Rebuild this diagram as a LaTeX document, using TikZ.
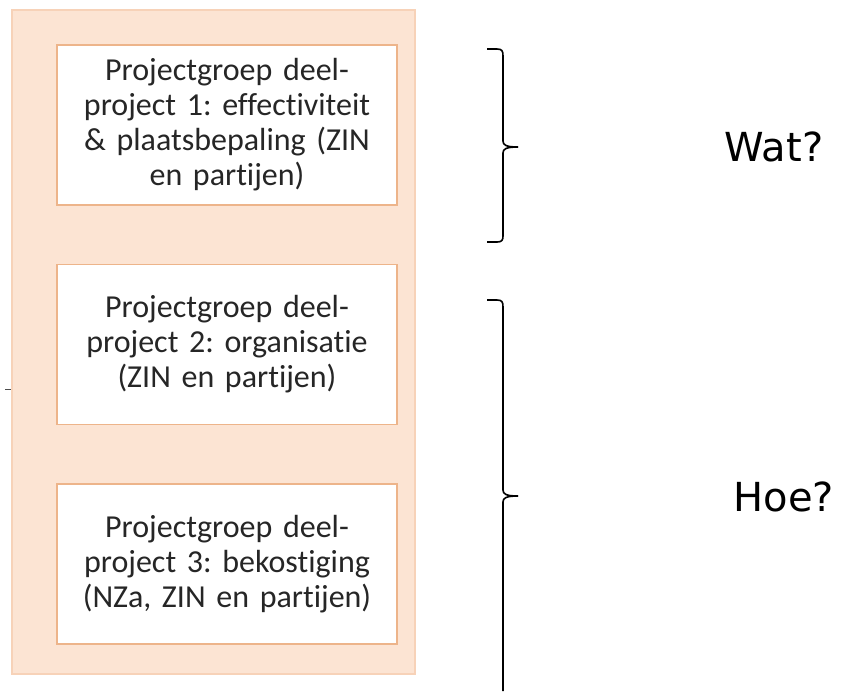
\documentclass[tikz,border=0pt]{standalone}
\usepackage{fontspec}
\setmainfont{Carlito}[Ligatures=NoCommon]
\newfontfamily\labelfont{DejaVu Sans}
\usetikzlibrary{positioning}
\frenchspacing
\definecolor{peach}{HTML}{FCE4D3}
\definecolor{peachline}{HTML}{F7D2B8}
\definecolor{boxline}{HTML}{EDB48A}
\tikzset{
    block/.style = {draw=boxline, fill=white, line width=1.5pt, rectangle,
        minimum height=160pt,
        minimum width=340pt, inner sep=0pt,
        text width=330pt, align=center, text=black!85,
        font=\fontsize{32}{35}\selectfont},
    panel/.style = {draw=peachline, fill=peach, line width=2pt},
    bracket/.style = {draw, line width=1.6pt, line join=round},
    question/.style = {font=\labelfont\fontsize{40}{48}\selectfont}
}

\begin{document}
\begin{tikzpicture}[x=1pt, y=-1pt, node distance=58pt]
        \useasboundingbox (0,0) rectangle (842,691);
        \draw [panel] (12,10) rectangle (415,674);
        \node [block] (dp1) at (227,125) {Projectgroep deel-\\project 1: effectiviteit\\\& plaatsbepaling (ZIN\\en partijen)};
        \node [block, below=of dp1] (dp2) {Projectgroep deel-\\project 2: organisatie\\(ZIN en partijen)};
        \node [block, below=of dp2] (dp3) {Projectgroep deel-\\project 3: bekostiging\\(NZa, ZIN en partijen)};
        \draw [line width=1pt, black!70] (5,389) -- (11,389);
        % brackets
        \draw [bracket] (487,49) -- (497,49) .. controls (502,49) and (503,51) .. (503,56) -- (503,141)
            .. controls (503,145) and (506,147) .. (518,147);
        \draw [bracket] (518,147) .. controls (506,147) and (503,149) .. (503,153) -- (503,236)
            .. controls (503,240) and (502,242) .. (497,242) -- (487,242);
        \draw [bracket] (487,300) -- (497,300) .. controls (502,300) and (503,302) .. (503,307) -- (503,490)
            .. controls (503,494) and (506,496) .. (518,496);
        \draw [bracket] (518,496) .. controls (506,496) and (503,498) .. (503,502) -- (503,691);
        \node [question] (wat) at (774,147) {Wat?};
        \node [question] (hoe) at (784,497) {Hoe?};
    \end{tikzpicture}
\end{document}
